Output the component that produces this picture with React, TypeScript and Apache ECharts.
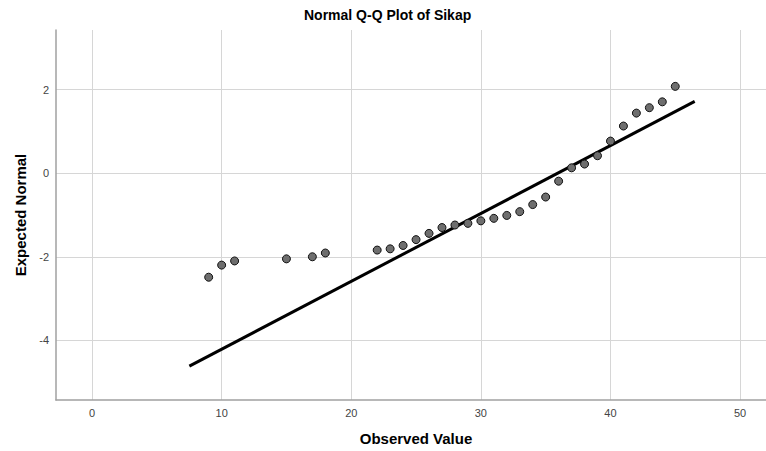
import React, { useEffect, useRef } from "react";
import * as echarts from "echarts";

const titleText = "Normal Q-Q Plot of Sikap";
const xAxisName = "Observed Value";
const yAxisName = "Expected Normal";

const observed = [9, 10, 11, 15, 17, 18, 22, 23, 24, 25, 26, 27, 28, 29, 30, 31, 32, 33, 34, 35, 36, 37, 38, 39, 40, 41, 42, 43, 44, 45];
const expected = [-2.49, -2.2, -2.1, -2.05, -2.0, -1.91, -1.84, -1.81, -1.73, -1.59, -1.44, -1.3, -1.24, -1.2, -1.14, -1.08, -1.01, -0.92, -0.75, -0.57, -0.19, 0.13, 0.22, 0.42, 0.77, 1.13, 1.44, 1.57, 1.71, 2.08];

const lineX = [7.51, 46.5];
const lineY = [-4.62, 1.72];

const xRange = [-2.78, 52];
const yRange = [-5.43, 3.43];

export default function App() {
  const ref = useRef<HTMLDivElement>(null);
  useEffect(() => {
    if (!ref.current) return;
    const chart = echarts.init(ref.current, null, { renderer: "svg" });
    const font = "'Liberation Sans', Arial, sans-serif";
    chart.setOption({
      animation: false,
      backgroundColor: "#ffffff",
      title: {
        text: titleText,
        left: 304,
        top: 8,
        padding: 0,
        textStyle: { fontFamily: font, fontSize: 14, fontWeight: "bold", color: "#000" },
      },
      grid: { left: 56, top: 30, right: 0, bottom: 50, containLabel: false },
      xAxis: {
        type: "value",
        min: xRange[0],
        max: xRange[1],
        minInterval: 10,
        maxInterval: 10,
        name: xAxisName,
        nameLocation: "middle",
        nameGap: 31,
        nameTextStyle: { fontFamily: font, fontSize: 15, fontWeight: "bold", color: "#000", padding: [0, 0, 0, 10] },
        axisLine: { show: true, onZero: false, lineStyle: { color: "#a0a0a0", width: 1.5 } },
        axisTick: { show: false },
        axisLabel: {
          showMinLabel: false,
          showMaxLabel: false,
          margin: 7,
          fontFamily: font,
          fontSize: 11,
          color: "#444",
          formatter: (v: number) => (Math.abs(v % 10) < 1e-6 ? String(v) : ""),
        },
        splitLine: { show: true, showMinLine: false, showMaxLine: false, lineStyle: { color: "#d6d6d6", width: 1 } },
      },
      yAxis: {
        type: "value",
        min: yRange[0],
        max: yRange[1],
        minInterval: 2,
        maxInterval: 2,
        name: yAxisName,
        nameLocation: "middle",
        nameGap: 28,
        nameRotate: 90,
        nameTextStyle: { fontFamily: font, fontSize: 15, fontWeight: "bold", color: "#000" },
        axisLine: { show: true, onZero: false, lineStyle: { color: "#a0a0a0", width: 1.5 } },
        axisTick: { show: false },
        axisLabel: {
          showMinLabel: false,
          showMaxLabel: false,
          margin: 7,
          fontFamily: font,
          fontSize: 11,
          color: "#444",
          formatter: (v: number) => (Math.abs(v % 2) < 1e-6 ? String(v) : ""),
        },
        splitLine: { show: true, showMinLine: false, showMaxLine: false, lineStyle: { color: "#d6d6d6", width: 1 } },
      },
      series: [
        {
          type: "line",
          data: lineX.map((x, i) => [x, lineY[i]]),
          showSymbol: false,
          symbol: "none",
          lineStyle: { color: "#000", width: 3 },
          z: 2,
        },
        {
          type: "scatter",
          data: observed.map((x, i) => [x, expected[i]]),
          symbol: "circle",
          symbolSize: 8,
          itemStyle: { color: "#6e6e6e", borderColor: "#111", borderWidth: 1, opacity: 1 },
          z: 3,
        },
      ],
    });
    return () => chart.dispose();
  }, []);
  return (
    <div
      ref={ref}
      style={{ position: "fixed", left: 0, top: 0, width: 766, height: 451, background: "#fff" }}
    />
  );
}
